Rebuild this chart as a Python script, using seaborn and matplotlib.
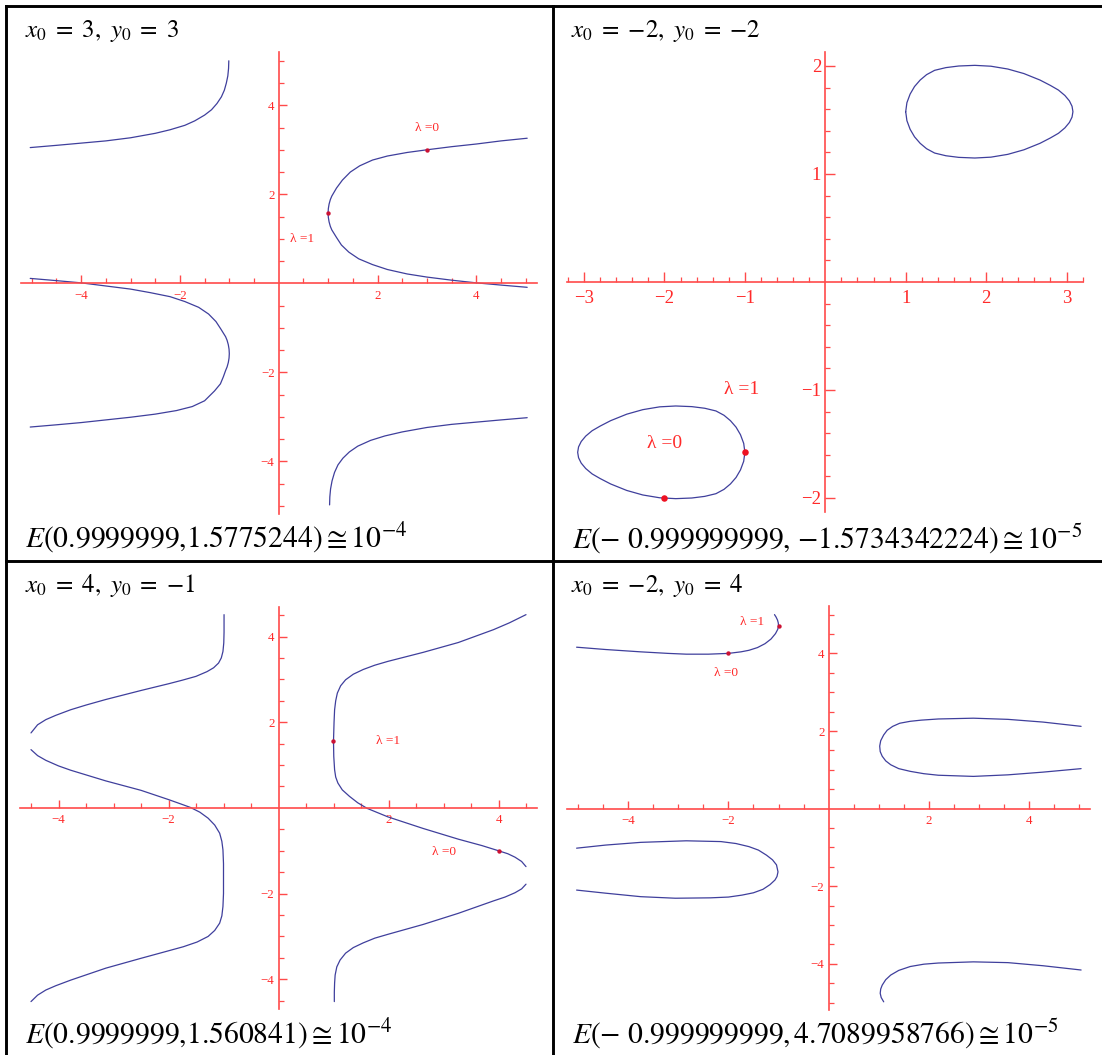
import matplotlib
matplotlib.use("Agg")
import matplotlib.pyplot as plt
import pandas as pd
import seaborn as sns
from matplotlib.lines import Line2D
from matplotlib.ticker import FixedLocator, FuncFormatter

# ---------------------------------------------------------------- data
# Panel 1: x0 = 3, y0 = 3
p1_a_x = [-5.03, -4.5, -4.0, -3.5, -3.0, -2.5, -2.2, -1.9, -1.7, -1.5, -1.36, -1.25,
          -1.16, -1.10, -1.06, -1.03, -1.015, -1.01]
p1_a_y = [3.05, 3.10, 3.15, 3.20, 3.27, 3.37, 3.45, 3.55, 3.65, 3.78, 3.90, 4.04,
          4.19, 4.34, 4.50, 4.66, 4.83, 5.00]
p1_b_x = [-5.03, -4.5, -4.0, -3.5, -3.0, -2.6, -2.2, -1.9, -1.62, -1.42, -1.27, -1.17,
          -1.075, -1.045, -1.02, -1.005, -1.0, -1.005, -1.02, -1.045, -1.075, -1.12,
          -1.18, -1.30, -1.50, -1.75, -2.07, -2.5, -3.0, -3.5, -4.0, -4.5, -5.03]
p1_b_y = [0.11, 0.06, 0.01, -0.06, -0.13, -0.21, -0.30, -0.41, -0.54, -0.69, -0.86, -1.03,
          -1.20, -1.28, -1.38, -1.48, -1.58, -1.68, -1.78, -1.88, -1.96, -2.10,
          -2.26, -2.42, -2.64, -2.77, -2.86, -2.94, -3.01, -3.07, -3.13, -3.18, -3.23]
p1_c_x = [5.03, 4.5, 4.0, 3.5, 3.0, 2.6, 2.2, 1.9, 1.64, 1.45, 1.29, 1.17, 1.075, 1.045,
          1.02, 1.005, 1.0, 1.005, 1.02, 1.045, 1.075, 1.17, 1.27, 1.42, 1.62, 1.9, 2.2,
          2.6, 3.0, 3.5, 4.0, 4.5, 5.03]
p1_c_y = [3.26, 3.20, 3.13, 3.07, 3.00, 2.94, 2.86, 2.77, 2.64, 2.50, 2.32, 2.14, 1.96, 1.88,
          1.78, 1.68, 1.58, 1.48, 1.38, 1.28, 1.20, 1.03, 0.86, 0.70, 0.55, 0.42, 0.31,
          0.21, 0.14, 0.07, 0.01, -0.04, -0.09]
p1_d_x = [1.03, 1.035, 1.05, 1.08, 1.13, 1.20, 1.30, 1.43, 1.60, 1.86, 2.15, 2.5, 3.0,
          3.5, 4.0, 4.5, 5.03]
p1_d_y = [-4.98, -4.80, -4.62, -4.44, -4.25, -4.08, -3.93, -3.79, -3.66, -3.53, -3.43,
          -3.34, -3.24, -3.17, -3.12, -3.07, -3.02]
p1_pts_x = [3.0, 0.9999999]
p1_pts_y = [3.0, 1.5775244]

# Panel 2: x0 = -2, y0 = -2
p2_a_x = [1.00, 1.015, 1.055, 1.11, 1.18, 1.26, 1.36, 1.50, 1.66, 1.86, 2.06, 2.27, 2.47,
          2.67, 2.80, 2.90, 2.98, 3.036, 3.069, 3.08,
          3.069, 3.036, 2.98, 2.90, 2.80, 2.67, 2.47, 2.27, 2.06, 1.86, 1.66, 1.50, 1.36,
          1.26, 1.18, 1.11, 1.055, 1.015, 1.00]
p2_a_y = [1.577, 1.66, 1.74, 1.81, 1.87, 1.92, 1.96, 1.985, 2.00, 2.006, 1.998, 1.972, 1.93,
          1.87, 1.82, 1.777, 1.727, 1.677, 1.627, 1.577,
          1.527, 1.477, 1.427, 1.377, 1.334, 1.284, 1.224, 1.182, 1.156, 1.148, 1.154,
          1.169, 1.194, 1.234, 1.284, 1.344, 1.414, 1.494, 1.577]
p2_b_x = [-1.00, -1.015, -1.055, -1.11, -1.18, -1.26, -1.36, -1.50, -1.66, -1.86, -2.06,
          -2.27, -2.47, -2.67, -2.80, -2.90, -2.98, -3.036, -3.069, -3.08,
          -3.069, -3.036, -2.98, -2.90, -2.80, -2.67, -2.47, -2.27, -2.06, -1.86, -1.66,
          -1.50, -1.36, -1.26, -1.18, -1.11, -1.055, -1.015, -1.00]
p2_b_y = [-1.577, -1.66, -1.74, -1.81, -1.87, -1.92, -1.96, -1.985, -2.00, -2.006, -1.998,
          -1.972, -1.93, -1.87, -1.82, -1.777, -1.727, -1.677, -1.627, -1.577,
          -1.527, -1.477, -1.427, -1.377, -1.334, -1.284, -1.224, -1.182, -1.156, -1.148,
          -1.154, -1.169, -1.194, -1.234, -1.284, -1.344, -1.414, -1.494, -1.577]
p2_pts_x = [-2.0, -0.999999999]
p2_pts_y = [-2.0, -1.5734342224]

# Panel 3: x0 = 4, y0 = -1
p3_a_x = [-0.99, -0.99, -0.995, -1.01, -1.04, -1.09, -1.18, -1.30, -1.50, -1.75, -1.99,
          -2.50, -3.14, -3.5, -3.78, -4.05, -4.23, -4.38, -4.5]
p3_a_y = [4.51, 4.10, 3.85, 3.65, 3.50, 3.38, 3.27, 3.18, 3.07, 2.98, 2.90,
          2.74, 2.53, 2.40, 2.29, 2.16, 2.06, 1.94, 1.75]
p3_b_x = [-4.5, -4.38, -4.23, -4.0, -3.78, -3.14, -2.50, -1.99, -1.75, -1.60, -1.43,
          -1.28, -1.16, -1.07, -1.03, -1.01, -1.0, -1.0, -1.0, -1.01, -1.03, -1.07, -1.16,
          -1.28, -1.48, -1.73, -2.1, -2.50, -3.14, -3.78, -4.05, -4.23, -4.38, -4.5]
p3_b_y = [1.36, 1.22, 1.11, 0.98, 0.88, 0.63, 0.41, 0.19, 0.08, 0.01, -0.10,
          -0.24, -0.40, -0.59, -0.78, -0.98, -1.30, -1.65, -2.00, -2.30, -2.52, -2.69, -2.86,
          -3.00, -3.13, -3.24, -3.37, -3.51, -3.74, -4.02, -4.15, -4.25, -4.37, -4.52]
p3_c_x = [4.5, 4.2, 3.91, 3.27, 2.63, 1.99, 1.75, 1.54, 1.36, 1.22, 1.13, 1.07, 1.04,
          1.02, 1.01, 1.0, 1.005, 1.02, 1.04, 1.08, 1.16, 1.29, 1.44, 1.61, 1.99, 2.63,
          3.27, 3.7, 4.0, 4.17, 4.30, 4.42, 4.5]
p3_c_y = [4.51, 4.32, 4.16, 3.86, 3.63, 3.42, 3.33, 3.23, 3.12, 2.99, 2.85, 2.68, 2.50,
          2.29, 2.00, 1.56, 1.20, 0.89, 0.72, 0.58, 0.42, 0.27, 0.12, -0.01, -0.21, -0.48,
          -0.73, -0.88, -1.00, -1.07, -1.15, -1.25, -1.37]
p3_d_x = [4.5, 4.42, 4.30, 4.12, 3.91, 3.27, 2.63, 1.99, 1.75, 1.54, 1.36, 1.22, 1.12,
          1.06, 1.03, 1.02, 1.015, 1.015]
p3_d_y = [-1.78, -1.89, -1.98, -2.08, -2.17, -2.46, -2.72, -2.95, -3.04, -3.15, -3.26,
          -3.39, -3.55, -3.71, -3.90, -4.09, -4.30, -4.52]
p3_pts_x = [4.0, 0.9999999]
p3_pts_y = [-1.0, 1.560841]

# Panel 4: x0 = -2, y0 = 4
p4_a_x = [-5.03, -4.45, -3.75, -3.2, -2.84, -2.4, -2.0, -1.75, -1.59, -1.42, -1.27, -1.15,
          -1.06, -1.015, -1.0, -1.005, -1.02, -1.05, -1.08]
p4_a_y = [4.16, 4.10, 4.04, 4.00, 3.98, 3.98, 4.00, 4.04, 4.08, 4.15, 4.25, 4.37,
          4.51, 4.62, 4.71, 4.79, 4.86, 4.94, 5.00]
p4_b_x = [5.04, 4.28, 3.58, 2.89, 2.19, 1.85, 1.63, 1.42, 1.28, 1.17, 1.10, 1.04, 1.02,
          1.03, 1.07, 1.14, 1.24, 1.40, 1.63, 1.90, 2.19, 2.89, 3.58, 4.28, 5.04]
p4_b_y = [2.12, 2.23, 2.30, 2.33, 2.31, 2.28, 2.25, 2.20, 2.12, 2.02, 1.90, 1.75, 1.61,
          1.47, 1.35, 1.23, 1.13, 1.03, 0.96, 0.90, 0.86, 0.83, 0.87, 0.94, 1.03]
p4_c_x = [-5.03, -4.45, -3.75, -2.84, -2.15, -1.85, -1.59, -1.40, -1.24, -1.12, -1.04,
          -1.01, -1.03, -1.07, -1.17, -1.31, -1.50, -1.73, -2.0, -2.36, -3.06, -3.75,
          -4.45, -5.03]
p4_c_y = [-1.02, -0.94, -0.87, -0.83, -0.85, -0.90, -0.98, -1.07, -1.20, -1.32, -1.45,
          -1.63, -1.75, -1.84, -1.96, -2.08, -2.17, -2.23, -2.28, -2.30, -2.31, -2.27,
          -2.18, -2.10]
p4_d_x = [1.10, 1.05, 1.03, 1.04, 1.07, 1.14, 1.24, 1.40, 1.63, 1.9, 2.19, 2.89, 3.58,
          4.28, 5.04]
p4_d_y = [-4.98, -4.87, -4.76, -4.65, -4.55, -4.41, -4.29, -4.17, -4.07, -4.01, -3.98,
          -3.95, -3.97, -4.05, -4.16]
p4_pts_x = [-2.0, -0.999999999]
p4_pts_y = [4.0, 4.7089958766]

titles = [r"$x_0\;=\ 3,\ y_0\;=\ 3$", r"$x_0\;=\ {-2},\ y_0\;=\ {-2}$",
          r"$x_0\;=\ 4,\ y_0\;=\ {-1}$", r"$x_0\;=\ {-2},\ y_0\;=\ 4$"]
errors = [r"$E\left(0.9999999{,}1.5775244\right) \cong 10^{-4}$",
          r"$E\left(-\ 0.999999999{,}\ {-1.5734342224}\right) \cong 10^{-5}$",
          r"$E\left(0.9999999{,}1.560841\right) \cong 10^{-4}$",
          r"$E\left(-\ 0.999999999{,}\,4.7089958766\right) \cong 10^{-5}$"]

# ---------------------------------------------------------------- style
sns.set_theme(style="white")
plt.rcParams["font.family"] = ["Liberation Serif", "DejaVu Serif"]
plt.rcParams["mathtext.fontset"] = "stix"

CURVE = "#3f3f9c"
AXIS_RED = "#ff4a4a"
LABEL_RED = "#ff2a2a"
DOT = "#cc1133"

W, H = 1102, 1055
fig = plt.figure(figsize=(W / 100, H / 100), dpi=100)
fig.patch.set_facecolor("white")


def make_axes(x0px, ux, xlim, y0px, uy, ylim):
    left = x0px + xlim[0] * ux
    width = (xlim[1] - xlim[0]) * ux
    top = y0px - ylim[1] * uy
    height = (ylim[1] - ylim[0]) * uy
    ax = fig.add_axes([left / W, 1 - (top + height) / H, width / W, height / H])
    ax.set_xlim(xlim)
    ax.set_ylim(ylim)
    return ax


def fmt(v, _pos):
    return f"{v:g}".replace("-", "\u2212")


def style_axes(ax, xmajor, ymajor, xminor, yminor, fs, majlen, minlen, xpad, ypad):
    ax.patch.set_alpha(0)
    ax.grid(False)
    for s in ("top", "right"):
        ax.spines[s].set_visible(False)
    for s in ("left", "bottom"):
        ax.spines[s].set_position(("data", 0))
        ax.spines[s].set_color(AXIS_RED)
        ax.spines[s].set_linewidth(1.2)
    ax.xaxis.set_major_locator(FixedLocator(xmajor))
    ax.yaxis.set_major_locator(FixedLocator(ymajor))
    ax.xaxis.set_minor_locator(FixedLocator(xminor))
    ax.yaxis.set_minor_locator(FixedLocator(yminor))
    ax.xaxis.set_major_formatter(FuncFormatter(fmt))
    ax.yaxis.set_major_formatter(FuncFormatter(fmt))
    ax.tick_params(which="both", bottom=True, left=True, top=False, right=False)
    ax.tick_params(which="major", direction="in", length=majlen, width=1.0,
                   color=AXIS_RED, labelcolor=LABEL_RED, labelsize=fs)
    ax.tick_params(axis="x", which="major", pad=xpad)
    ax.tick_params(axis="y", which="major", pad=ypad)
    ax.tick_params(which="minor", direction="in", length=minlen, width=0.9,
                   color=AXIS_RED)
    ax.set_xlabel("")
    ax.set_ylabel("")


def branches(*pairs):
    frames = []
    for i, (xs, ys) in enumerate(pairs):
        frames.append(pd.DataFrame({"x": xs, "y": ys, "branch": i}))
    return pd.concat(frames, ignore_index=True)


def draw(ax, df, px, py, dot_size, dot_color):
    sns.lineplot(data=df, x="x", y="y", units="branch", estimator=None,
                 sort=False, color=CURVE, linewidth=0.9, ax=ax, legend=False)
    sns.scatterplot(x=px, y=py, ax=ax, color=dot_color, s=dot_size,
                    linewidth=0, zorder=5, legend=False)


def tick_run(lo, hi, step, skip):
    out = []
    v = lo
    while v <= hi + 1e-9:
        r = round(v, 4)
        if abs(r) > 1e-9 and all(abs(r - s) > 1e-9 for s in skip):
            out.append(r)
        v += step
    return out


LAB_FS = 9.6

# ---------------------------------------------------------------- panel 1
ax1 = make_axes(278.7, 49.4, (-5.22, 5.22), 283.3, 44.5, (-5.18, 5.2))
draw(ax1, branches((p1_a_x, p1_a_y), (p1_b_x, p1_b_y), (p1_c_x, p1_c_y), (p1_d_x, p1_d_y)),
     p1_pts_x, p1_pts_y, 10, DOT)
maj = [-4, -2, 2, 4]
style_axes(ax1, maj, maj, tick_run(-5, 5, 0.5, maj), tick_run(-5, 5, 0.5, maj),
           9.3, 6, 3.5, 4.5, 3)
ax1.text(3.0, 3.5, "λ =0", color=LABEL_RED, fontsize=LAB_FS, ha="center", va="center")
ax1.text(0.48, 1.0, "λ =1", color=LABEL_RED, fontsize=LAB_FS, ha="center", va="center")

# ---------------------------------------------------------------- panel 2
ax2 = make_axes(825.3, 80.4, (-3.21, 3.21), 282.0, 108.0, (-2.13, 2.13))
draw(ax2, branches((p2_a_x, p2_a_y), (p2_b_x, p2_b_y)), p2_pts_x, p2_pts_y, 22, "#ee1122")
xmaj2 = [-3, -2, -1, 1, 2, 3]
ymaj2 = [-2, -1, 1, 2]
style_axes(ax2, xmaj2, ymaj2, tick_run(-3.2, 3.2, 0.2, xmaj2),
           tick_run(-2.0, 2.0, 0.2, ymaj2), 13.5, 7, 3.5, 6, 3)
ax2.text(-1.04, -1.0, "λ =1", color=LABEL_RED, fontsize=14, ha="center", va="center")
ax2.text(-2.0, -1.5, "λ =0", color=LABEL_RED, fontsize=14, ha="center", va="center")

# ---------------------------------------------------------------- panel 3
ax3 = make_axes(278.5, 55.0, (-4.7, 4.7), 807.9, 42.85, (-4.7, 4.7))
draw(ax3, branches((p3_a_x, p3_a_y), (p3_b_x, p3_b_y), (p3_c_x, p3_c_y), (p3_d_x, p3_d_y)),
     p3_pts_x, p3_pts_y, 10, DOT)
style_axes(ax3, maj, maj, tick_run(-4.5, 4.5, 0.5, maj), tick_run(-4.5, 4.5, 0.5, maj),
           9.3, 6, 3.5, 4.5, 3)
ax3.text(1.99, 1.55, "λ =1", color=LABEL_RED, fontsize=LAB_FS, ha="center", va="center")
ax3.text(3.0, -1.02, "λ =0", color=LABEL_RED, fontsize=LAB_FS, ha="center", va="center")

# ---------------------------------------------------------------- panel 4
ax4 = make_axes(828.6, 50.1, (-5.22, 5.22), 808.6, 38.8, (-5.18, 5.22))
draw(ax4, branches((p4_a_x, p4_a_y), (p4_b_x, p4_b_y), (p4_c_x, p4_c_y), (p4_d_x, p4_d_y)),
     p4_pts_x, p4_pts_y, 10, DOT)
style_axes(ax4, maj, maj, tick_run(-5, 5, 0.5, maj), tick_run(-5, 5, 0.5, maj),
           9.3, 6, 3.5, 4.5, 3)
ax4.text(-1.52, 4.81, "λ =1", color=LABEL_RED, fontsize=LAB_FS, ha="center", va="center")
ax4.text(-2.04, 3.49, "λ =0", color=LABEL_RED, fontsize=LAB_FS, ha="center", va="center")

# ---------------------------------------------------------------- table frame and captions
def hline(ypx, x0px, x1px):
    fig.add_artist(Line2D([x0px / W, x1px / W], [1 - ypx / H, 1 - ypx / H],
                          transform=fig.transFigure, color="black", lw=2.1,
                          solid_capstyle="projecting"))


def vline(xpx, y0px, y1px):
    fig.add_artist(Line2D([xpx / W, xpx / W], [1 - y0px / H, 1 - y1px / H],
                          transform=fig.transFigure, color="black", lw=2.1,
                          solid_capstyle="projecting"))


hline(6, 6, W + 5)
hline(561, 6, W + 5)
vline(6, 6, H + 5)
vline(553, 6, H + 5)

title_pos = [(25, 37), (571, 37), (25, 592), (571, 592)]
error_pos = [(25, 547), (572, 548), (25, 1043), (572, 1043)]
for (tx, ty), t in zip(title_pos, titles):
    fig.text(tx / W, 1 - ty / H, t, fontsize=18, color="black", va="baseline", ha="left")
for (ex, ey), t in zip(error_pos, errors):
    fig.text(ex / W, 1 - ey / H, t, fontsize=21.3, color="black", va="baseline", ha="left")

fig.savefig("out.png", dpi=100, facecolor="white")
